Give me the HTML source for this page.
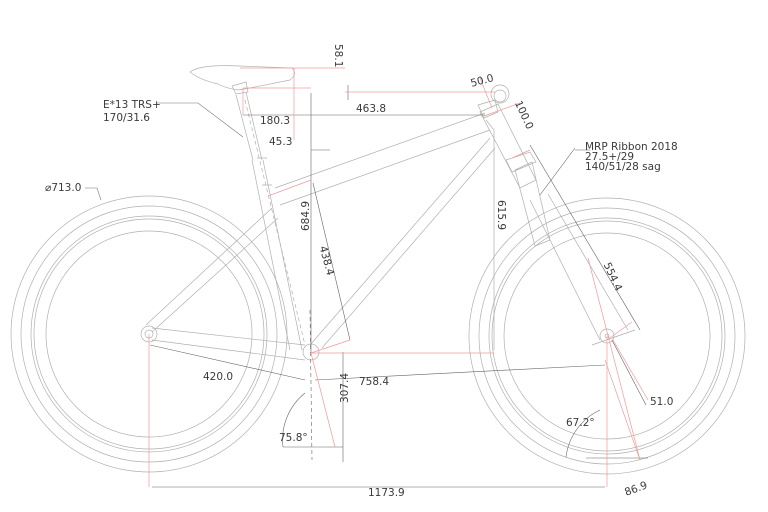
<!DOCTYPE html>
<html><head><meta charset="utf-8"><style>
html,body{margin:0;padding:0;background:#fff;}
svg{display:block;}
text{font-family:"DejaVu Sans","Liberation Sans",sans-serif;font-size:10.5px;fill:#3a3a3a;}
</style></head><body>
<svg width="768" height="512" viewBox="0 0 768 512" xmlns="http://www.w3.org/2000/svg">
<g fill="none" stroke="#b0b0b0" stroke-width="0.7">
<!-- rear wheel -->
<circle cx="149" cy="334" r="138"/><circle cx="149" cy="334" r="128"/>
<circle cx="149" cy="334" r="118"/><circle cx="149" cy="334" r="115"/>
<circle cx="149" cy="334" r="103"/>
<!-- front wheel -->
<circle cx="607" cy="336" r="138"/><circle cx="607" cy="336" r="128"/>
<circle cx="607" cy="336" r="118"/><circle cx="607" cy="336" r="115"/>
<circle cx="607" cy="336" r="103"/>
<!-- seat tube -->
<path d="M236 95 L253 160 M246 92 L262 160"/>
<path d="M252 160 L290 350 M263 160 L302 350"/>
<path d="M257 158 l10 0 M262 185 l10 0"/>
<path d="M245 100 L305 345" stroke-dasharray="4 3"/>
<!-- saddle -->
<path d="M190 72 Q200 64 240 66 L292 68 Q298 74 290 80 Q270 84 250 88 L238 90 Q225 88 218 84 Q200 80 190 72 Z"/>
<path d="M232 86 L246 82 L248 92 L236 94 Z"/>
<!-- top tube -->
<path d="M275 188 L485 113 M280 205 L490 130"/>
<!-- down tube -->
<path d="M310 345 L490 138 M322 348 L495 148"/>
<!-- chainstay / seatstay -->
<path d="M152 328 L305 345 M152 340 L305 360"/>
<path d="M146 325 L272 208 M152 332 L278 218"/>
<!-- BB -->
<circle cx="311" cy="352" r="8"/>
<circle cx="149" cy="334" r="8"/><circle cx="149" cy="334" r="4"/>
<!-- head tube -->
<path d="M480 112 L498 104 L536 180 L520 188 Z"/>
<path d="M486 120 L494 130 M494 130 L494 350"/>
<!-- stem / bar -->
<circle cx="500" cy="94" r="9"/><circle cx="500" cy="96" r="6"/>
<path d="M478 105 L495 100 L498 112 L484 118 Z"/>
<!-- fork -->
<path d="M506 160 L530 152 L536 162 L512 172 Z"/>
<path d="M515 170 L532 162 L550 240 L535 246 Z"/>
<path d="M530 200 L600 340 M548 194 L628 330"/>
<path d="M592 345 L635 330"/>
<circle cx="607" cy="336" r="7"/><circle cx="607" cy="336" r="2"/>
<!-- dimension lines black -->
<g stroke="#666" stroke-width="0.6">
<path d="M243 115 L485 115"/>
<path d="M311 93 L311 355"/>
<path d="M311 150 L330 150"/>
<path d="M150 345 L305 380 M315 380 L605 365"/>
<path d="M152 487 L605 487"/>
<path d="M343 352 L343 462"/>
<path d="M313 183 L350 340"/>
<path d="M530 145 L640 330"/>
<path d="M612 340 L646 405"/>
<path d="M348 85 L348 100"/>
<path d="M283 447 A60 60 0 0 1 305 393"/>
<path d="M566 457 A60 60 0 0 1 600 410"/>
<path d="M586 458 L648 458 M283 447 L343 447"/>
<path d="M310 310 L312 460" stroke-dasharray="4 3"/>
<path d="M157 103 L198 103 L243 137" stroke="#777"/>
<path d="M85 188 L97 188 L101 200" stroke="#777"/>
<path d="M575 148 L540 195 M575 150 L590 150"/>
</g>
<!-- red dimension lines -->
<g stroke="#f29a9a" stroke-width="0.7">
<path d="M240 68 L345 68 M294 68 L294 140"/>
<path d="M243 88 L311 88 M243 88 L243 115"/>
<path d="M345 92 L495 92"/>
<path d="M268 196 L311 180"/>
<path d="M311 353 L494 353"/>
<path d="M311 353 L350 340"/>
<path d="M149 334 L149 487"/>
<path d="M607 336 L607 487"/>
<path d="M588 258 L640 460"/>
<path d="M607 340 L632 322"/>
<path d="M613 340 L648 400"/>
<path d="M311 353 L335 447"/>
<path d="M484 116 L520 103 M512 158 L530 150 M480 78 L492 108"/>
<path d="M605 360 L640 460"/>
</g>
</g>
<text x="333" y="58" transform="rotate(90 341 52)">58.1</text>
<text x="103" y="108">E*13 TRS+</text>
<text x="103" y="121">170/31.6</text>
<text x="45" y="191">⌀713.0</text>
<text x="260" y="124">180.3</text>
<text x="356" y="112">463.8</text>
<text x="269" y="145">45.3</text>
<text x="470" y="85" transform="rotate(-15 478 80)">50.0</text>
<text x="510" y="110" transform="rotate(65 518 110)">100.0</text>
<text x="585" y="150">MRP Ribbon 2018</text>
<text x="585" y="160">27.5+/29</text>
<text x="585" y="170">140/51/28 sag</text>
<text x="498" y="200" transform="rotate(90 498 200)">615.9</text>
<text x="300" y="228" transform="rotate(-90 306 225)">684.9</text>
<text x="318" y="255" transform="rotate(75 324 252)">438.4</text>
<text x="600" y="270" transform="rotate(65 606 270)">554.4</text>
<text x="203" y="380">420.0</text>
<text x="359" y="385">758.4</text>
<text x="337" y="392" transform="rotate(-90 348 392)">307.4</text>
<text x="279" y="441">75.8°</text>
<text x="566" y="426">67.2°</text>
<text x="650" y="405">51.0</text>
<text x="368" y="496">1173.9</text>
<text x="624" y="492" transform="rotate(-20 636 488)">86.9</text>
</svg>
</body></html>
